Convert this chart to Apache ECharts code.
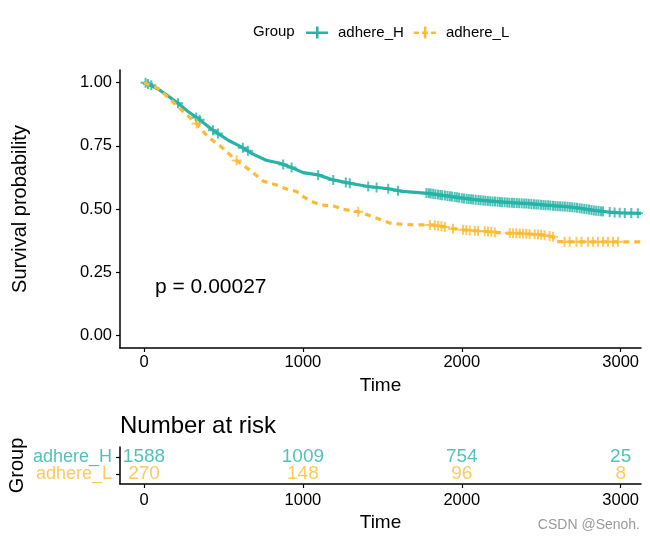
<!DOCTYPE html>
<html><head><meta charset="utf-8">
<script src="https://cdn.jsdelivr.net/npm/echarts@6/dist/echarts.min.js"></script>
<style>html,body{margin:0;padding:0;background:#fff}#c{width:650px;height:541px}</style>
</head><body><div id="c"></div>
<script>
// ---- data ----
const groups = ['adhere_H', 'adhere_L'];
const survH = [[0,1.0],[39,0.99],[87,0.975],[135,0.955],[214,0.918],[279,0.885],[340,0.858],[404,0.826],[465,0.799],[530,0.772],[612,0.746],[683,0.718],[769,0.693],[856,0.681],[939,0.661],[1002,0.644],[1096,0.635],[1191,0.615],[1295,0.602],[1411,0.589],[1537,0.580],[1626,0.570],[1788,0.562],[1935,0.549],[2082,0.537],[2208,0.530],[2310,0.525],[2428,0.521],[2533,0.515],[2617,0.511],[2700,0.507],[2784,0.499],[2910,0.489],[2994,0.485],[3128,0.483]];
const survL = [[0,1.0],[39,0.99],[88,0.977],[164,0.935],[235,0.892],[329,0.839],[402,0.786],[486,0.746],[580,0.693],[664,0.655],[751,0.610],[834,0.595],[897,0.579],[961,0.569],[1002,0.549],[1055,0.529],[1117,0.516],[1191,0.512],[1253,0.499],[1348,0.489],[1442,0.469],[1516,0.452],[1557,0.443],[1642,0.439],[1726,0.437],[1809,0.437],[1882,0.430],[1935,0.423],[2019,0.417],[2103,0.413],[2187,0.410],[2250,0.405],[2323,0.404],[2386,0.403],[2512,0.397],[2574,0.390],[2585,0.371],[2722,0.370],[3128,0.370]];
const censorH = [[10,1.0],[25,0.995],[46,0.99],[214,0.918],[329,0.862],[350,0.853],[434,0.812],[465,0.799],[622,0.742],[654,0.730],[876,0.676],[929,0.664],[1096,0.635],[1191,0.615],[1270,0.605],[1295,0.602],[1411,0.589],[1464,0.585],[1537,0.580],[1599,0.572],
[1778,0.563],[1793,0.562],[1805,0.561],[1820,0.560],[1834,0.558],[1850,0.557],[1865,0.555],[1877,0.554],[1894,0.553],[1910,0.551],
[1925,0.550],[1938,0.549],[1955,0.547],[1969,0.546],[1983,0.545],[2000,0.543],[2014,0.542],[2030,0.541],[2044,0.540],[2059,0.539],
[2072,0.538],[2088,0.537],[2105,0.536],[2119,0.535],[2135,0.534],[2149,0.533],[2164,0.532],[2179,0.531],[2194,0.530],[2209,0.530],
[2225,0.529],[2240,0.528],[2254,0.527],[2270,0.527],[2286,0.526],[2300,0.525],[2316,0.525],[2330,0.524],[2346,0.524],[2361,0.523],
[2377,0.523],[2393,0.522],[2407,0.522],[2422,0.521],[2438,0.520],[2454,0.519],[2469,0.518],[2483,0.518],[2499,0.517],[2514,0.516],
[2528,0.515],[2544,0.515],[2558,0.514],[2574,0.513],[2589,0.512],[2604,0.511],[2619,0.511],[2634,0.510],[2649,0.510],[2665,0.509],
[2680,0.508],[2695,0.507],[2710,0.506],[2725,0.505],[2741,0.503],[2755,0.502],[2771,0.500],[2786,0.499],[2801,0.498],[2816,0.496],
[2831,0.494],[2846,0.493],[2861,0.492],[2876,0.491],[2889,0.490],
[2931,0.488],[2962,0.486],[2994,0.485],[3026,0.484],[3067,0.484],[3108,0.483]];
const censorL = [[331,0.838],[583,0.692],[1348,0.489],[1799,0.437],[1831,0.436],[1851,0.434],[1872,0.432],[1893,0.429],[1945,0.422],[2008,0.418],[2029,0.417],[2050,0.415],[2082,0.414],[2102,0.413],[2144,0.412],[2165,0.411],[2186,0.410],[2208,0.407],[2302,0.405],[2322,0.404],[2343,0.404],[2365,0.403],[2386,0.403],[2406,0.402],[2427,0.401],[2459,0.400],[2480,0.399],[2500,0.398],[2521,0.396],[2553,0.393],[2574,0.390],[2647,0.370],[2679,0.370],[2722,0.370],[2753,0.370],[2795,0.370],[2825,0.370],[2857,0.370],[2889,0.370],[2920,0.370],[2952,0.370],[2983,0.370]];
const riskTimes = [0, 1000, 2000, 3000];
const riskH = [1588, 1009, 754, 25];
const riskL = [270, 148, 96, 8];
const riskRows = [2, 1]; // row position of adhere_H, adhere_L in the risk table
const xTicks = [0, 1000, 2000, 3000];
const yTicks = [0, 0.25, 0.5, 0.75, 1];
const pText = 'p = 0.00027';

// ---- styling ----
const COL = {adhere_H: '#27B3A7', adhere_L: '#FDBB35'};
const FONT = '"Liberation Sans", Arial, sans-serif';
const PLUS = 'path://M4,0H6V4H10V6H6V10H4V6H0V4H4Z';
const axisLine = {show: true, onZero: false, lineStyle: {color: '#000', width: 1.5}};
const axisTick = {show: true, length: 4, lineStyle: {color: '#000', width: 1.2}};
const X_MIN = -151, X_MAX = 3128;

const chart = echarts.init(document.getElementById('c'), null, {renderer: 'canvas'});
const xAxisBase = (gi, gap, margin) => ({
  type: 'value', gridIndex: gi, min: X_MIN, max: X_MAX,
  name: 'Time', nameLocation: 'middle', nameGap: gap,
  nameTextStyle: {fontFamily: FONT, fontSize: 19, color: '#000'},
  axisLine, axisTick: Object.assign({customValues: xTicks}, axisTick),
  axisLabel: {customValues: xTicks, margin: margin, fontFamily: FONT, fontSize: 16.5, color: '#000', formatter: v => String(v)},
  splitLine: {show: false}
});

chart.setOption({
  animation: false,
  backgroundColor: '#fff',
  grid: [
    {left: 120, top: 70, width: 521, height: 278, outerBoundsMode: 'none', containLabel: false},
    {left: 120, top: 447, width: 521, height: 37, outerBoundsMode: 'none', containLabel: false}
  ],
  xAxis: [xAxisBase(0, 26, 6), xAxisBase(1, 29, 8)],
  yAxis: [
    {type: 'value', gridIndex: 0, min: -0.05, max: 1.05,
     name: 'Survival probability', nameLocation: 'middle', nameGap: 90,
     nameTextStyle: {fontFamily: FONT, fontSize: 20, color: '#000'},
     axisLine, axisTick: Object.assign({customValues: yTicks}, axisTick),
     axisLabel: {customValues: yTicks, margin: 8, fontFamily: FONT, fontSize: 16.5, color: '#000', formatter: v => v.toFixed(2)},
     splitLine: {show: false}},
    {type: 'value', gridIndex: 1, min: 0.4, max: 2.6,
     name: 'Group', nameLocation: 'middle', nameGap: 93,
     nameTextStyle: {fontFamily: FONT, fontSize: 20, color: '#000'},
     axisLine, axisTick: Object.assign({customValues: riskRows}, axisTick),
     axisLabel: {show: false},
     splitLine: {show: false}}
  ],
  legend: {
    left: 301, top: 20, itemWidth: 22, itemHeight: 12, itemGap: 10,
    textStyle: {fontFamily: FONT, fontSize: 15, color: '#000', padding: [0, 0, 0, 5]},
    data: [
      {name: 'adhere_H', icon: 'path://M0,5H22V7.5H0Z M10,0H12.5V12H10Z'},
      {name: 'adhere_L', icon: 'path://M0,5H5V7.5H0Z M8,5H14V7.5H8Z M17,5H22V7.5H17Z M10,0H12.5V12H10Z'}
    ]
  },
  graphic: [
    {type: 'text', left: 253, top: 24, style: {text: 'Group', fontFamily: FONT, fontSize: 15, fill: '#000'}},
    {type: 'text', left: 155, top: 277, style: {text: pText, fontFamily: FONT, fontSize: 21, fill: '#000'}},
    {type: 'text', left: 120, top: 414, style: {text: 'Number at risk', fontFamily: FONT, fontSize: 24, fill: '#000'}},
    {type: 'text', right: 10, top: 518, style: {text: 'CSDN @Senoh.', fontFamily: FONT, fontSize: 14, fill: '#9a9a9a'}}
  ],
  series: [
    {name: 'adhere_H', type: 'line', xAxisIndex: 0, yAxisIndex: 0, data: survH, showSymbol: false,
     itemStyle: {color: COL.adhere_H}, lineStyle: {color: COL.adhere_H, width: 3.2}, z: 2},
    {name: 'adhere_H', type: 'scatter', xAxisIndex: 0, yAxisIndex: 0, data: censorH, symbol: PLUS, symbolSize: 10,
     itemStyle: {color: COL.adhere_H}, z: 3},
    {name: 'adhere_L', type: 'line', xAxisIndex: 0, yAxisIndex: 0, data: survL, showSymbol: false,
     itemStyle: {color: COL.adhere_L}, lineStyle: {color: COL.adhere_L, width: 3.2, type: [6, 5]}, z: 4},
    {name: 'adhere_L', type: 'scatter', xAxisIndex: 0, yAxisIndex: 0, data: censorL, symbol: PLUS, symbolSize: 10,
     itemStyle: {color: COL.adhere_L}, z: 5},
    {name: 'adhere_H', type: 'scatter', xAxisIndex: 1, yAxisIndex: 1, symbolSize: 0,
     data: riskTimes.map((t, i) => [t, riskRows[0], riskH[i]]),
     itemStyle: {color: COL.adhere_H},
     label: {show: true, position: 'inside', formatter: p => String(p.value[2]), color: COL.adhere_H, fontFamily: FONT, fontSize: 19}},
    {name: 'adhere_L', type: 'scatter', xAxisIndex: 1, yAxisIndex: 1, symbolSize: 0,
     data: riskTimes.map((t, i) => [t, riskRows[1], riskL[i]]),
     itemStyle: {color: COL.adhere_L},
     label: {show: true, position: 'inside', formatter: p => String(p.value[2]), color: COL.adhere_L, fontFamily: FONT, fontSize: 19}},
    {name: 'rowLabels', type: 'scatter', xAxisIndex: 1, yAxisIndex: 1, symbolSize: 0, clip: false,
     data: groups.map((g, i) => ({value: [X_MIN, riskRows[i]], name: g,
       label: {color: COL[g]}})),
     label: {show: true, position: 'left', distance: 8, formatter: p => p.name, fontFamily: FONT, fontSize: 18},
     silent: true}
  ]
});
</script>
</body></html>
